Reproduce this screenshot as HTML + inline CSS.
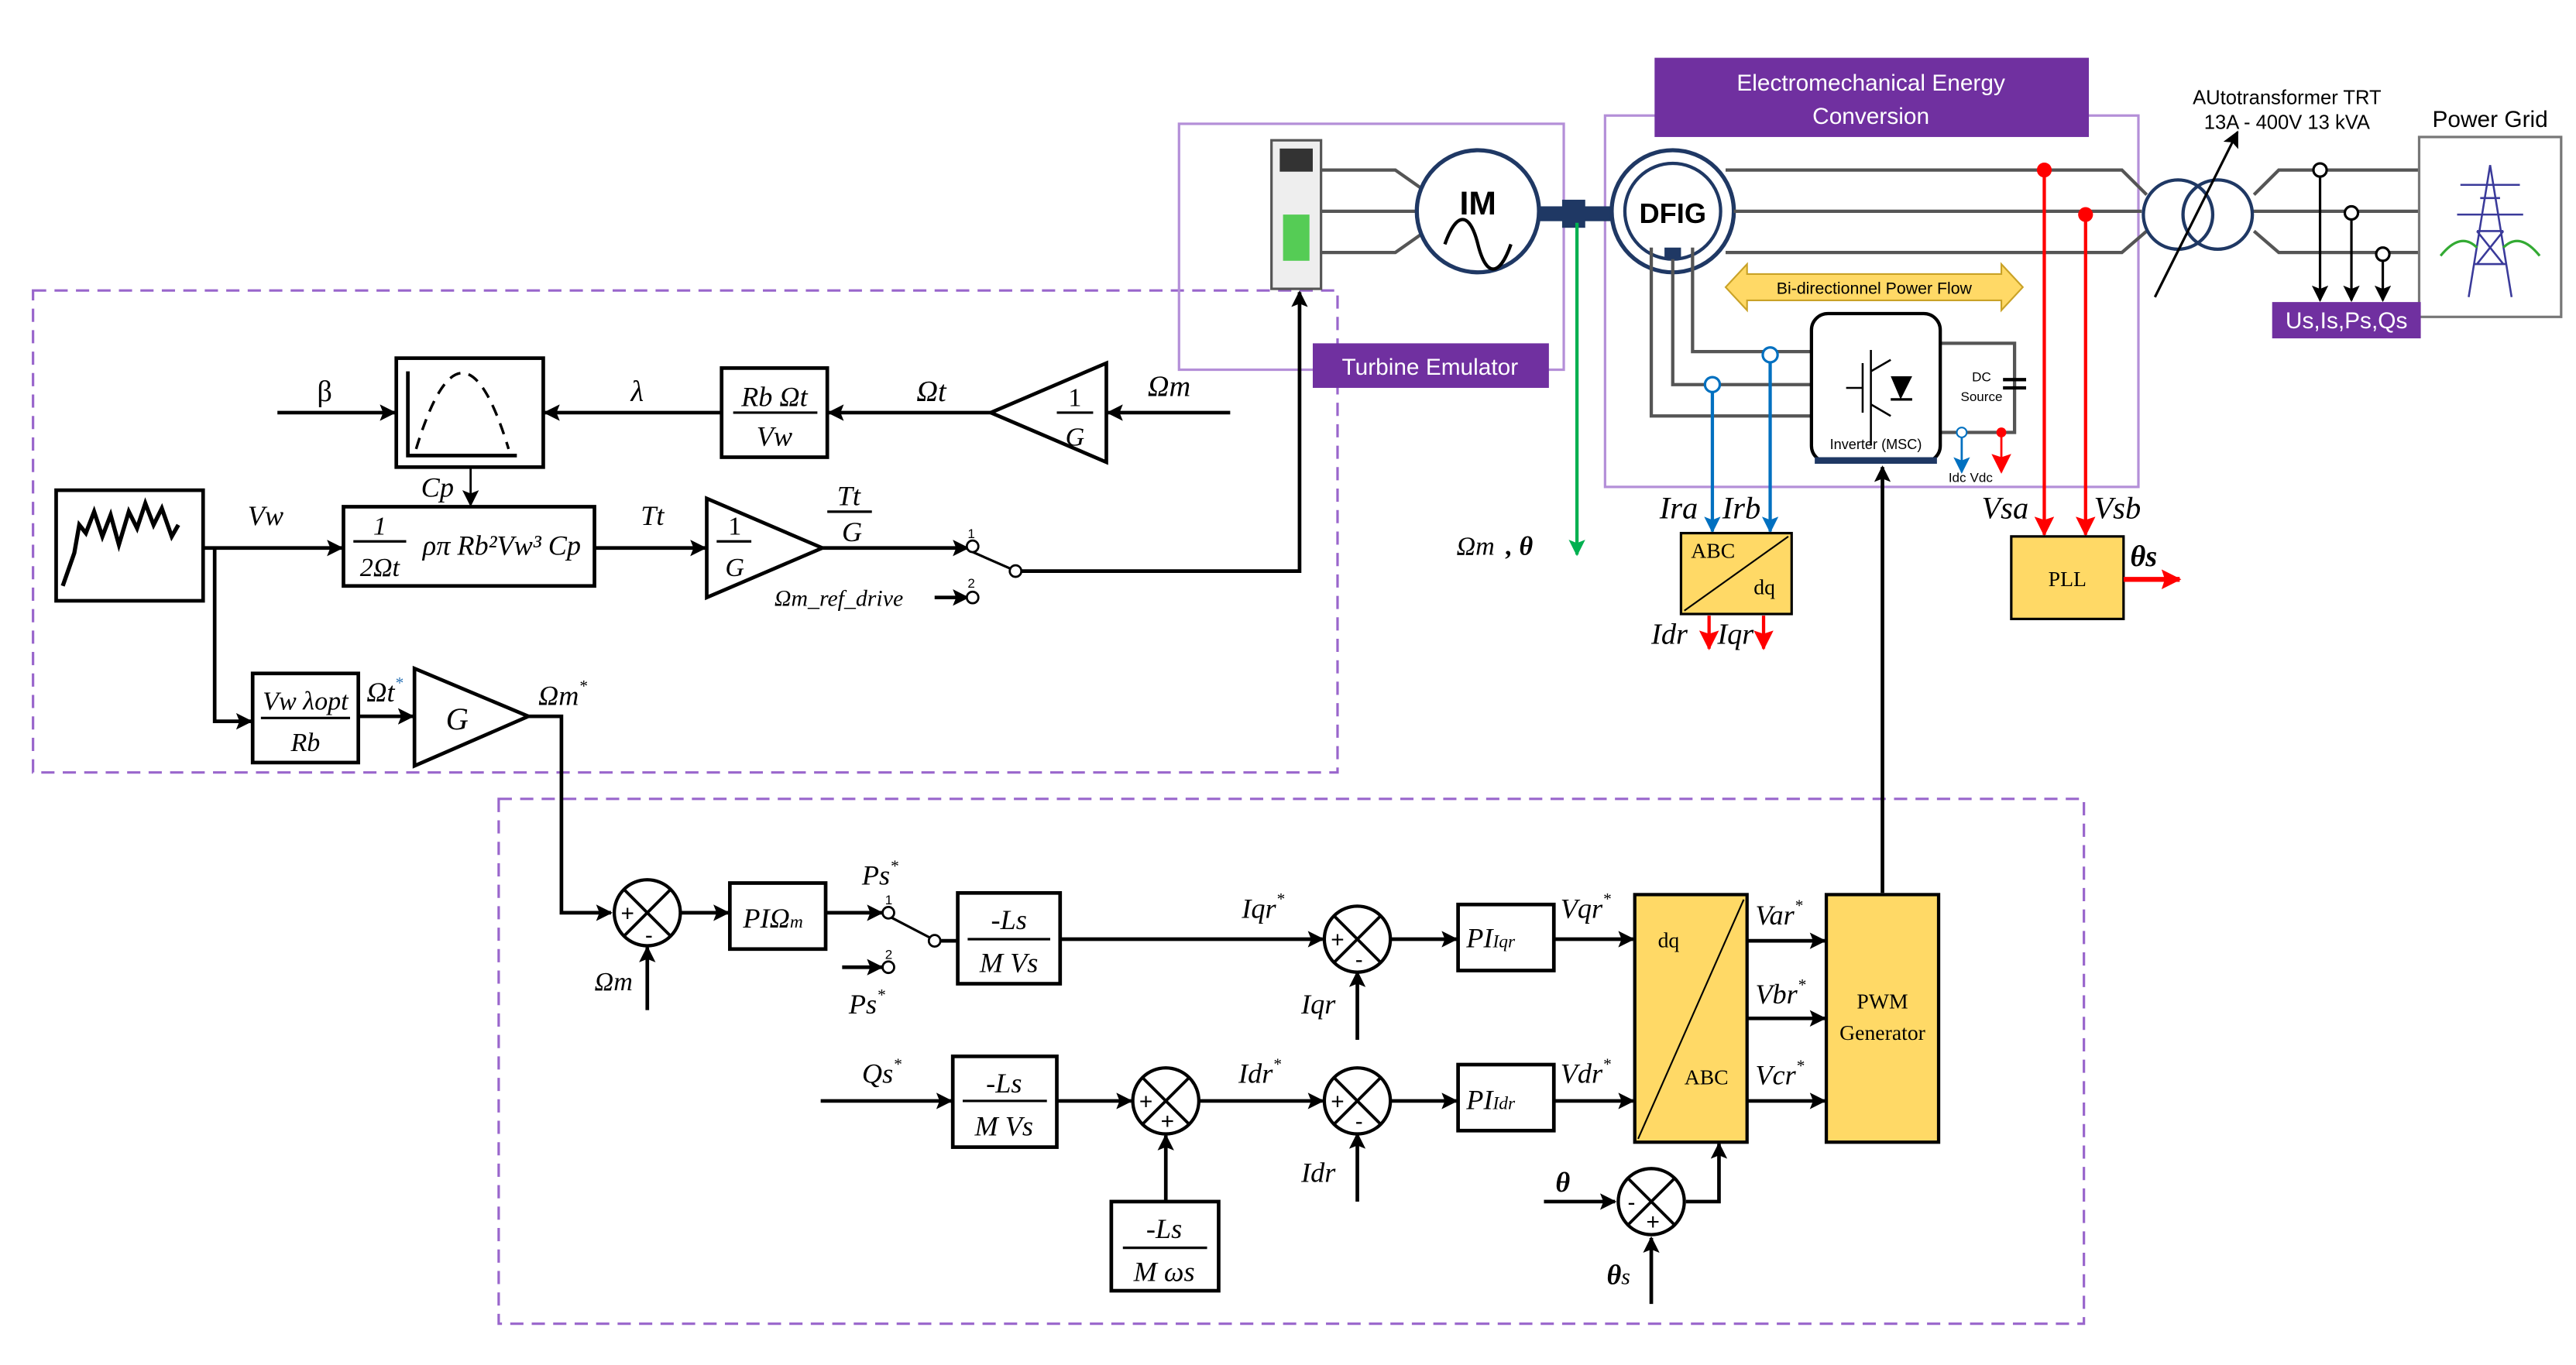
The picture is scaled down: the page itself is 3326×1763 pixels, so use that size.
<!DOCTYPE html>
<html><head><meta charset="utf-8">
<style>
html,body{margin:0;padding:0;background:#fff;}
svg{display:block;}
.m{font-family:"Liberation Serif",serif;font-style:italic;}
.s{font-family:"Liberation Sans",sans-serif;}
.r{font-family:"Liberation Serif",serif;}
</style></head><body>
<svg width="3326" height="1763" viewBox="0 0 1560 827" preserveAspectRatio="none" xmlns="http://www.w3.org/2000/svg">
<defs>
<marker id="a" markerWidth="10" markerHeight="10" refX="9" refY="5" orient="auto" markerUnits="userSpaceOnUse"><path d="M0,0 L10,5 L0,10 L2,5 z" fill="#000"/></marker>
<marker id="ar" markerWidth="12" markerHeight="12" refX="11" refY="6" orient="auto" markerUnits="userSpaceOnUse"><path d="M0,0 L12,6 L0,12 L2,6 z" fill="#f00"/></marker>
<marker id="ab" markerWidth="10" markerHeight="10" refX="9" refY="5" orient="auto" markerUnits="userSpaceOnUse"><path d="M0,0 L10,5 L0,10 L2,5 z" fill="#0070c0"/></marker>
<marker id="ag" markerWidth="10" markerHeight="10" refX="9" refY="5" orient="auto" markerUnits="userSpaceOnUse"><path d="M0,0 L10,5 L0,10 L2,5 z" fill="#00b050"/></marker>
</defs>
<rect width="1560" height="827" fill="#fff"/>

<rect x="20" y="176" width="790" height="292" fill="none" stroke="#9966cc" stroke-width="1.5" stroke-dasharray="8,5"/>
<rect x="302" y="484" width="960" height="318" fill="none" stroke="#9966cc" stroke-width="1.5" stroke-dasharray="8,5"/>

<rect x="714" y="75" width="233" height="149" fill="none" stroke="#b48fd8" stroke-width="1.5"/>
<rect x="795" y="208" width="143" height="27" fill="#7030a0"/>
<text x="866" y="227" class="s" font-size="14" fill="#fff" text-anchor="middle">Turbine Emulator</text>

<rect x="972" y="70" width="323" height="225" fill="none" stroke="#b48fd8" stroke-width="1.5"/>
<rect x="1002" y="35" width="263" height="48" fill="#7030a0"/>
<text x="1133" y="55" class="s" font-size="14" fill="#fff" text-anchor="middle">Electromechanical Energy</text>
<text x="1133" y="75" class="s" font-size="14" fill="#fff" text-anchor="middle">Conversion</text>

<rect x="770" y="85" width="30" height="90" fill="#eee" stroke="#555" stroke-width="1.5"/>
<rect x="775" y="90" width="20" height="14" fill="#333"/>
<rect x="777" y="130" width="16" height="28" fill="#5c5"/>
<g stroke="#555" stroke-width="2" fill="none">
<path d="M800,103 H845 L862,115"/><path d="M800,128 H860"/><path d="M800,153 H845 L862,141"/>
</g>
<circle cx="895" cy="128" r="37" fill="#fff" stroke="#1f3864" stroke-width="2.5"/>
<text x="895" y="130" class="s" font-size="20" font-weight="bold" text-anchor="middle">IM</text>
<path d="M875,148 C882,128 890,128 895,148 C900,168 908,168 915,148" fill="none" stroke="#000" stroke-width="2"/>
<rect x="932" y="125" width="50" height="9" fill="#1f3864"/>
<rect x="946" y="121" width="14" height="17" fill="#1f3864"/>
<circle cx="1013" cy="128" r="37" fill="#fff" stroke="#1f3864" stroke-width="2.5"/>
<circle cx="1013" cy="128" r="29" fill="none" stroke="#1f3864" stroke-width="2"/>
<text x="1013" y="135" class="s" font-size="17" font-weight="bold" text-anchor="middle">DFIG</text>
<rect x="1008" y="150" width="10" height="7" fill="#1f3864"/>
<g stroke="#555" stroke-width="2" fill="none">
<path d="M1045,103 H1285 L1300,118"/><path d="M1050,128 H1297"/><path d="M1045,153 H1285 L1300,140"/>
<path d="M1365,118 L1380,103 H1465"/><path d="M1363,128 H1465"/><path d="M1365,140 L1380,153 H1465"/>
<path d="M1000,150 V252 H1097"/><path d="M1013,157 V233 H1097"/><path d="M1025,150 V213 H1097"/>
<path d="M1175,208 H1220 V262 H1175"/>
</g>
<line x1="1213" y1="230" x2="1227" y2="230" stroke="#000" stroke-width="2"/>
<line x1="1213" y1="235" x2="1227" y2="235" stroke="#000" stroke-width="2"/>
<text x="1200" y="231" class="s" font-size="8" text-anchor="middle">DC</text>
<text x="1200" y="243" class="s" font-size="8" text-anchor="middle">Source</text>
<circle cx="1319" cy="130" r="21" fill="none" stroke="#1f3864" stroke-width="2"/>
<circle cx="1343" cy="130" r="21" fill="none" stroke="#1f3864" stroke-width="2"/>
<line x1="1305" y1="180" x2="1355" y2="80" stroke="#000" stroke-width="1.5" marker-end="url(#a)"/>
<text x="1385" y="63" class="s" font-size="12" text-anchor="middle">AUtotransformer TRT</text>
<text x="1385" y="78" class="s" font-size="12" text-anchor="middle">13A - 400V 13 kVA</text>
<rect x="1465" y="83" width="86" height="109" fill="#fff" stroke="#777" stroke-width="1.5"/>
<text x="1508" y="77" class="s" font-size="14" text-anchor="middle">Power Grid</text>
<g stroke="#3a3a9a" stroke-width="1.2" fill="none">
<path d="M1508,100 L1495,180 M1508,100 L1521,180 M1498,160 L1518,160 M1500,140 L1516,140 M1502,120 L1514,120 M1500,140 L1516,160 M1516,140 L1500,160 M1490,112 H1526 M1488,130 H1528"/>
</g>
<path d="M1478,155 Q1490,140 1500,150 M1516,150 Q1526,140 1538,155" stroke="#3a3" stroke-width="1.5" fill="none"/>
<g stroke="#000" stroke-width="1.5" fill="#fff">
<line x1="1405" y1="107" x2="1405" y2="182" marker-end="url(#a)"/>
<line x1="1424" y1="132" x2="1424" y2="182" marker-end="url(#a)"/>
<line x1="1443" y1="157" x2="1443" y2="182" marker-end="url(#a)"/>
<circle cx="1405" cy="103" r="4"/><circle cx="1424" cy="129" r="4"/><circle cx="1443" cy="154" r="4"/>
</g>
<rect x="1376" y="183" width="90" height="22" fill="#7030a0"/>
<text x="1421" y="199" class="s" font-size="14" fill="#fff" text-anchor="middle">Us,Is,Ps,Qs</text>

<path d="M1045,174 L1058,160 V166 H1212 V160 L1225,174 L1212,188 V182 H1058 V188 Z" fill="#ffd966" stroke="#c9a227" stroke-width="1"/>
<text x="1135" y="178" class="s" font-size="10" text-anchor="middle">Bi-directionnel Power Flow</text>
<rect x="1097" y="190" width="78" height="90" rx="10" fill="#fff" stroke="#000" stroke-width="2"/>
<path d="M1099,279 H1173" stroke="#1f3864" stroke-width="4"/>
<g stroke="#000" stroke-width="1.2" fill="none">
<path d="M1118,235 H1128 M1128,220 V250 M1133,212 V270 M1133,225 L1145,218 M1133,245 L1145,252"/>
</g>
<path d="M1145,228 L1158,228 L1151,242 Z" fill="#000"/>
<line x1="1145" y1="242" x2="1158" y2="242" stroke="#000" stroke-width="1.5"/>
<text x="1136" y="272" class="s" font-size="8.5" text-anchor="middle">Inverter (MSC)</text>
<line x1="1188" y1="264" x2="1188" y2="286" stroke="#0070c0" stroke-width="1.3" marker-end="url(#ab)"/>
<circle cx="1188" cy="262" r="3" fill="#fff" stroke="#0070c0"/>
<line x1="1212" y1="264" x2="1212" y2="286" stroke="#f00" stroke-width="1.3" marker-end="url(#ar)"/>
<circle cx="1212" cy="262" r="3" fill="#f00"/>
<text x="1180" y="292" class="s" font-size="8">Idc</text>
<text x="1193" y="292" class="s" font-size="8">Vdc</text>

<line x1="955" y1="135" x2="955" y2="336" stroke="#00b050" stroke-width="2" marker-end="url(#ag)"/>
<text x="882" y="336" class="m" font-size="16">Ωm</text><text x="912" y="336" class="m" font-size="16" font-weight="bold">, θ</text>

<line x1="1037" y1="236" x2="1037" y2="322" stroke="#0070c0" stroke-width="2" marker-end="url(#ab)"/>
<circle cx="1037" cy="233" r="4.5" fill="#fff" stroke="#0070c0" stroke-width="1.5"/>
<line x1="1072" y1="218" x2="1072" y2="322" stroke="#0070c0" stroke-width="2" marker-end="url(#ab)"/>
<circle cx="1072" cy="215" r="4.5" fill="#fff" stroke="#0070c0" stroke-width="1.5"/>
<text x="1005" y="314" class="m" font-size="19">Ira</text><text x="1043" y="314" class="m" font-size="19">Irb</text>
<rect x="1018" y="323" width="67" height="49" fill="#ffd966" stroke="#000" stroke-width="1.5"/>
<line x1="1020" y1="370" x2="1083" y2="325" stroke="#000" stroke-width="1"/>
<text x="1024" y="338" class="r" font-size="13">ABC</text><text x="1062" y="360" class="r" font-size="13">dq</text>
<line x1="1035" y1="373" x2="1035" y2="393" stroke="#f00" stroke-width="2" marker-end="url(#ar)"/>
<line x1="1068" y1="373" x2="1068" y2="393" stroke="#f00" stroke-width="2" marker-end="url(#ar)"/>
<text x="1000" y="390" class="m" font-size="18">Idr</text><text x="1040" y="390" class="m" font-size="18">Iqr</text>

<line x1="1238" y1="103" x2="1238" y2="324" stroke="#f00" stroke-width="2" marker-end="url(#ar)"/>
<circle cx="1238" cy="103" r="4.5" fill="#f00"/>
<line x1="1263" y1="130" x2="1263" y2="324" stroke="#f00" stroke-width="2" marker-end="url(#ar)"/>
<circle cx="1263" cy="130" r="4.5" fill="#f00"/>
<text x="1200" y="314" class="m" font-size="19">Vsa</text><text x="1268" y="314" class="m" font-size="19">Vsb</text>
<rect x="1218" y="325" width="68" height="50" fill="#ffd966" stroke="#000" stroke-width="1.5"/>
<text x="1252" y="355" class="r" font-size="13" text-anchor="middle">PLL</text>
<line x1="1286" y1="351" x2="1320" y2="351" stroke="#f00" stroke-width="3" marker-end="url(#ar)"/>
<text x="1290" y="343" class="m" font-size="18" font-weight="bold">θs</text>

<g stroke="#000" stroke-width="2.2" fill="none">
<rect x="240" y="217" width="89" height="66" fill="#fff"/>
<path d="M247,225 V276 H313"/>
<path d="M252,272 Q280,180 308,272" stroke-dasharray="7,5" stroke-width="1.6"/>
<line x1="168" y1="250" x2="239" y2="250" marker-end="url(#a)"/>
<line x1="436" y1="250" x2="330" y2="250" marker-end="url(#a)"/>
<rect x="437" y="223" width="64" height="54" fill="#fff"/>
<line x1="444" y1="250" x2="495" y2="250" stroke-width="1.5"/>
<line x1="600" y1="250" x2="502" y2="250" marker-end="url(#a)"/>
<path d="M600,250 L670,220 L670,280 Z" fill="#fff"/>
<line x1="640" y1="250" x2="662" y2="250" stroke-width="1.5"/>
<line x1="745" y1="250" x2="671" y2="250" marker-end="url(#a)"/>
<line x1="285" y1="283" x2="285" y2="306" stroke-width="1.3" marker-end="url(#a)"/>
<rect x="34" y="297" width="89" height="67" fill="#fff"/>
<path d="M38,355 L45,335 L48,318 L52,323 L57,310 L62,325 L67,312 L72,330 L78,310 L83,320 L88,305 L93,318 L98,308 L104,325 L108,318" stroke-width="2.5"/>
<line x1="123" y1="332" x2="207" y2="332" marker-end="url(#a)"/>
<rect x="208" y="307" width="152" height="48" fill="#fff"/>
<line x1="214" y1="328" x2="246" y2="328" stroke-width="1.5"/>
<line x1="360" y1="332" x2="427" y2="332" marker-end="url(#a)"/>
<path d="M428,302 L428,362 L498,332 Z" fill="#fff"/>
<line x1="434" y1="328" x2="455" y2="328" stroke-width="1.5"/>
<line x1="498" y1="332" x2="586" y2="332" marker-end="url(#a)"/>
<line x1="501" y1="310" x2="528" y2="310" stroke-width="1.5"/>
<line x1="588" y1="334" x2="613" y2="345" stroke-width="1.5"/>
<path d="M617,346 H787 V177" marker-end="url(#a)"/>
<line x1="566" y1="362" x2="586" y2="362" marker-end="url(#a)"/>
<path d="M130,332 V437 H152" marker-end="url(#a)"/>
<rect x="153" y="408" width="64" height="54" fill="#fff"/>
<line x1="158" y1="435" x2="212" y2="435" stroke-width="1.5"/>
<line x1="217" y1="434" x2="250" y2="434" marker-end="url(#a)"/>
<path d="M251,405 L251,464 L320,434 Z" fill="#fff"/>
<path d="M320,434 H340 V553 H370" marker-end="url(#a)"/>
</g>
<g fill="#fff" stroke="#000" stroke-width="1.3">
<circle cx="589" cy="331" r="3.5"/><circle cx="615" cy="346" r="3.5"/><circle cx="589" cy="362" r="3.5"/>
</g>
<text x="192" y="243" class="r" font-size="18">β</text>
<text x="382" y="243" class="m" font-size="18">λ</text>
<text x="469" y="246" class="m" font-size="17" text-anchor="middle">Rb Ωt</text>
<text x="469" y="270" class="m" font-size="17" text-anchor="middle">Vw</text>
<text x="555" y="243" class="m" font-size="18">Ωt</text>
<text x="695" y="240" class="m" font-size="18">Ωm</text>
<text x="651" y="246" class="r" font-size="16" text-anchor="middle">1</text>
<text x="651" y="270" class="m" font-size="16" text-anchor="middle">G</text>
<text x="255" y="301" class="m" font-size="17">Cp</text>
<text x="150" y="318" class="m" font-size="17">Vw</text>
<text x="230" y="324" class="m" font-size="16" text-anchor="middle">1</text>
<text x="230" y="349" class="m" font-size="16" text-anchor="middle">2Ωt</text>
<text x="256" y="336" class="m" font-size="17">ρπ Rb²Vw³ Cp</text>
<text x="388" y="318" class="m" font-size="17">Tt</text>
<text x="445" y="324" class="r" font-size="16" text-anchor="middle">1</text>
<text x="445" y="349" class="m" font-size="16" text-anchor="middle">G</text>
<text x="514" y="306" class="m" font-size="17" text-anchor="middle">Tt</text>
<text x="516" y="328" class="m" font-size="17" text-anchor="middle">G</text>
<text x="586" y="326" class="s" font-size="8">1</text><text x="586" y="356" class="s" font-size="8">2</text>
<text x="469" y="367" class="m" font-size="14">Ωm_ref_drive</text>
<text x="185" y="430" class="m" font-size="16" text-anchor="middle">Vw λopt</text>
<text x="185" y="455" class="m" font-size="16" text-anchor="middle">Rb</text>
<text x="222" y="425" class="m" font-size="17">Ωt<tspan font-size="10" dy="-8" fill="#2e74b5">*</tspan></text>
<text x="270" y="442" class="m" font-size="19">G</text>
<text x="326" y="427" class="m" font-size="17">Ωm<tspan font-size="10" dy="-8">*</tspan></text>

<g stroke="#000" stroke-width="2.2" fill="none">
<line x1="412" y1="553" x2="441" y2="553" marker-end="url(#a)"/>
<rect x="442" y="535" width="58" height="40" fill="#fff"/>
<line x1="500" y1="553" x2="534" y2="553" marker-end="url(#a)"/>
<line x1="540" y1="556" x2="563" y2="568" stroke-width="1.5"/>
<line x1="510" y1="586" x2="534" y2="586" marker-end="url(#a)"/>
<line x1="570" y1="570" x2="579" y2="570"/>
<rect x="580" y="541" width="62" height="55" fill="#fff"/>
<line x1="586" y1="569" x2="636" y2="569" stroke-width="1.5"/>
<line x1="642" y1="569" x2="801" y2="569" marker-end="url(#a)"/>
<line x1="842" y1="569" x2="882" y2="569" marker-end="url(#a)"/>
<rect x="883" y="548" width="58" height="40" fill="#fff"/>
<line x1="941" y1="569" x2="989" y2="569" marker-end="url(#a)"/>
<line x1="392" y1="612" x2="392" y2="574" marker-end="url(#a)"/>
<line x1="822" y1="630" x2="822" y2="589" marker-end="url(#a)"/>
<line x1="497" y1="667" x2="576" y2="667" marker-end="url(#a)"/>
<rect x="577" y="640" width="63" height="55" fill="#fff"/>
<line x1="583" y1="667" x2="634" y2="667" stroke-width="1.5"/>
<line x1="640" y1="667" x2="685" y2="667" marker-end="url(#a)"/>
<line x1="726" y1="667" x2="801" y2="667" marker-end="url(#a)"/>
<line x1="842" y1="667" x2="882" y2="667" marker-end="url(#a)"/>
<rect x="883" y="645" width="58" height="40" fill="#fff"/>
<line x1="941" y1="667" x2="989" y2="667" marker-end="url(#a)"/>
<line x1="706" y1="727" x2="706" y2="688" marker-end="url(#a)"/>
<rect x="673" y="728" width="65" height="54" fill="#fff"/>
<line x1="680" y1="756" x2="731" y2="756" stroke-width="1.5"/>
<line x1="822" y1="728" x2="822" y2="687" marker-end="url(#a)"/>
<line x1="935" y1="728" x2="978" y2="728" marker-end="url(#a)"/>
<path d="M1021,728 H1041 V693" marker-end="url(#a)"/>
<line x1="1000" y1="790" x2="1000" y2="750" marker-end="url(#a)"/>
</g>
<g fill="#fff" stroke="#000" stroke-width="1.3">
<circle cx="538" cy="553" r="3.5"/><circle cx="566" cy="570" r="3.5"/><circle cx="538" cy="586" r="3.5"/>
</g>
<g stroke="#000" stroke-width="2" fill="#fff">
<circle cx="392" cy="553" r="20"/><circle cx="822" cy="569" r="20"/><circle cx="706" cy="667" r="20"/><circle cx="822" cy="667" r="20"/><circle cx="1000" cy="728" r="20"/>
</g>
<g stroke="#000" stroke-width="1.8">
<path d="M378,539 L406,567 M406,539 L378,567"/>
<path d="M808,555 L836,583 M836,555 L808,583"/>
<path d="M692,653 L720,681 M720,653 L692,681"/>
<path d="M808,653 L836,681 M836,653 L808,681"/>
<path d="M986,714 L1014,742 M1014,714 L986,742"/>
</g>
<g class="s" font-size="14" text-anchor="middle">
<text x="380" y="558">+</text><text x="393" y="571">-</text>
<text x="810" y="574">+</text><text x="823" y="586">-</text>
<text x="694" y="672">+</text><text x="707" y="684">+</text>
<text x="810" y="672">+</text><text x="823" y="684">-</text>
<text x="988" y="733">-</text><text x="1001" y="745">+</text>
</g>
<rect x="990" y="542" width="68" height="150" fill="#ffd966" stroke="#000" stroke-width="2"/>
<line x1="992" y1="690" x2="1056" y2="545" stroke="#000" stroke-width="1"/>
<text x="1004" y="574" class="r" font-size="13">dq</text><text x="1020" y="657" class="r" font-size="13">ABC</text>
<rect x="1106" y="542" width="68" height="150" fill="#ffd966" stroke="#000" stroke-width="2"/>
<text x="1140" y="611" class="r" font-size="13" text-anchor="middle">PWM</text>
<text x="1140" y="630" class="r" font-size="13" text-anchor="middle">Generator</text>
<g stroke="#000" stroke-width="2.2">
<line x1="1058" y1="570" x2="1105" y2="570" marker-end="url(#a)"/>
<line x1="1058" y1="617" x2="1105" y2="617" marker-end="url(#a)"/>
<line x1="1058" y1="667" x2="1105" y2="667" marker-end="url(#a)"/>
<line x1="1140" y1="541" x2="1140" y2="283" marker-end="url(#a)"/>
</g>
<text x="360" y="600" class="m" font-size="16">Ωm</text>
<text x="450" y="562" class="m" font-size="17">PIΩ<tspan font-size="11">m</tspan></text>
<text x="522" y="536" class="m" font-size="17">Ps<tspan font-size="10" dy="-8">*</tspan></text>
<text x="514" y="614" class="m" font-size="17">Ps<tspan font-size="10" dy="-8">*</tspan></text>
<text x="536" y="548" class="s" font-size="8">1</text><text x="536" y="581" class="s" font-size="8">2</text>
<text x="611" y="563" class="m" font-size="17" text-anchor="middle">-Ls</text>
<text x="611" y="589" class="m" font-size="17" text-anchor="middle">M Vs</text>
<text x="752" y="556" class="m" font-size="17">Iqr<tspan font-size="10" dy="-8">*</tspan></text>
<text x="788" y="614" class="m" font-size="17">Iqr</text>
<text x="888" y="574" class="m" font-size="17">PI<tspan font-size="11">Iqr</tspan></text>
<text x="945" y="556" class="m" font-size="17">Vqr<tspan font-size="10" dy="-8">*</tspan></text>
<text x="1063" y="560" class="m" font-size="17">Var<tspan font-size="10" dy="-8">*</tspan></text>
<text x="1063" y="608" class="m" font-size="17">Vbr<tspan font-size="10" dy="-8">*</tspan></text>
<text x="1063" y="657" class="m" font-size="17">Vcr<tspan font-size="10" dy="-8">*</tspan></text>
<text x="522" y="656" class="m" font-size="17">Qs<tspan font-size="10" dy="-8">*</tspan></text>
<text x="608" y="662" class="m" font-size="17" text-anchor="middle">-Ls</text>
<text x="608" y="688" class="m" font-size="17" text-anchor="middle">M Vs</text>
<text x="750" y="656" class="m" font-size="17">Idr<tspan font-size="10" dy="-8">*</tspan></text>
<text x="788" y="716" class="m" font-size="17">Idr</text>
<text x="888" y="672" class="m" font-size="17">PI<tspan font-size="11">Idr</tspan></text>
<text x="945" y="656" class="m" font-size="17">Vdr<tspan font-size="10" dy="-8">*</tspan></text>
<text x="705" y="750" class="m" font-size="17" text-anchor="middle">-Ls</text>
<text x="705" y="776" class="m" font-size="17" text-anchor="middle">M ωs</text>
<text x="942" y="722" class="m" font-size="17" font-weight="bold">θ</text>
<text x="973" y="778" class="m" font-size="17" font-weight="bold">θ<tspan font-weight="normal" font-size="14">s</tspan></text>
</svg>
</body></html>
